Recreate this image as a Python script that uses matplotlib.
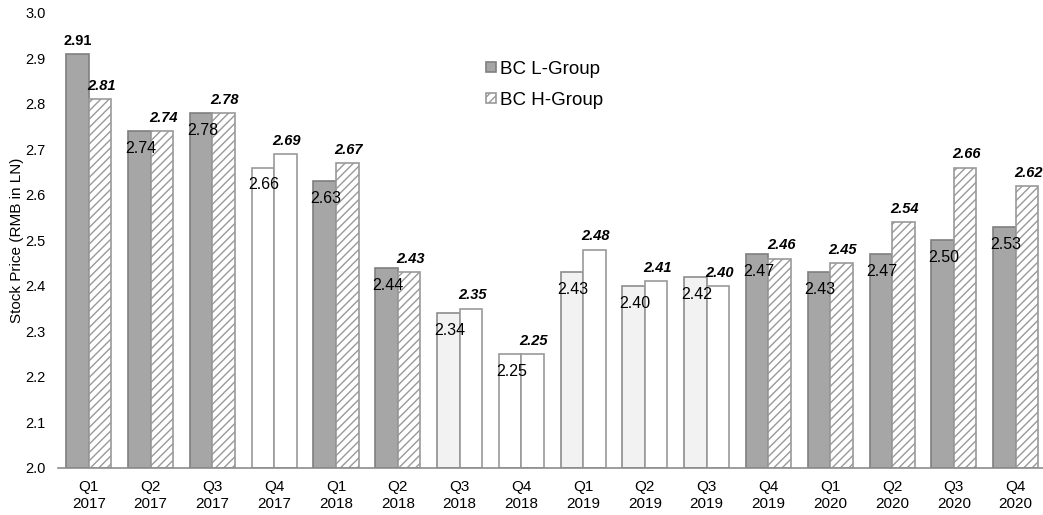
import matplotlib
matplotlib.use("Agg")
import matplotlib.pyplot as plt
import numpy as np
from matplotlib.patches import Patch

plt.rcParams['font.family'] = ['Liberation Sans', 'DejaVu Sans']
plt.rcParams['hatch.linewidth'] = 1.0

quarters = ['Q1', 'Q2', 'Q3', 'Q4'] * 4
years = ['2017'] * 4 + ['2018'] * 4 + ['2019'] * 4 + ['2020'] * 4
l_values = [2.91, 2.74, 2.78, 2.66, 2.63, 2.44, 2.34, 2.25,
            2.43, 2.40, 2.42, 2.47, 2.43, 2.47, 2.50, 2.53]
h_values = [2.81, 2.74, 2.78, 2.69, 2.67, 2.43, 2.35, 2.25,
            2.48, 2.41, 2.40, 2.46, 2.45, 2.54, 2.66, 2.62]

# fill style per bar: 'dark' grey, 'light' grey, 'white', 'hatch'
l_fill = ['dark', 'dark', 'dark', 'white', 'dark', 'dark', 'light', 'white',
          'light', 'light', 'light', 'dark', 'dark', 'dark', 'dark', 'dark']
h_fill = ['hatch', 'hatch', 'hatch', 'white', 'hatch', 'hatch', 'white', 'white',
          'white', 'white', 'white', 'hatch', 'hatch', 'hatch', 'hatch', 'hatch']

fills = {
    'dark': dict(facecolor='#a6a6a6', edgecolor='#7f7f7f'),
    'light': dict(facecolor='#f2f2f2', edgecolor='#8c8c8c'),
    'white': dict(facecolor='white', edgecolor='#9a9a9a'),
    'hatch': dict(facecolor='white', edgecolor='#999999', hatch='////'),
}

fig = plt.figure(figsize=(10.43, 5.15), dpi=100)
ax = fig.add_axes([0.0556, 0.0913, 0.946, 0.8835])

x = np.arange(len(l_values))
w = 0.365
base = 2.0

for i in range(len(x)):
    ax.bar(x[i] - w / 2, l_values[i] - base, w, bottom=base,
           linewidth=1.2, **fills[l_fill[i]])
    ax.bar(x[i] + w / 2, h_values[i] - base, w, bottom=base,
           linewidth=1.2, **fills[h_fill[i]])

# value labels
for i in range(len(x)):
    lv = l_values[i]
    if lv == max(l_values):
        ax.annotate(f'{lv:.2f}', (x[i] - w / 2, lv), xytext=(0, 4),
                    textcoords='offset points', ha='center', va='bottom',
                    fontsize=10.5, fontweight='bold')
    else:
        ax.annotate(f'{lv:.2f}', (x[i] - w / 2 + 0.02, lv), xytext=(0, -7),
                    textcoords='offset points', ha='center', va='top',
                    fontsize=11.5)
    hv = h_values[i]
    ax.annotate(f'{hv:.2f}', (x[i] + w / 2 + 0.02, hv), xytext=(0, 4.5),
                textcoords='offset points', ha='center', va='bottom',
                fontsize=10.5, fontweight='bold', fontstyle='italic')

ax.set_ylim(2.0, 3.0)
ax.set_xlim(-0.5, 15.47)
ax.set_yticks(np.arange(2.0, 3.01, 0.1))
ax.set_yticklabels([f'{v:.1f}' for v in np.arange(2.0, 3.01, 0.1)], fontsize=10.5)
ax.set_xticks(x)
ax.set_xticklabels([f'{q}\n{y}' for q, y in zip(quarters, years)], fontsize=11,
                   linespacing=1.2)
ax.tick_params(axis='both', length=0)
ax.tick_params(axis='y', pad=9)
ax.tick_params(axis='x', pad=9)

for s in ['top', 'right', 'left']:
    ax.spines[s].set_visible(False)
ax.spines['bottom'].set_color('#8c8c8c')
ax.spines['bottom'].set_linewidth(1.2)

ax.set_ylabel('Stock Price (RMB in LN)', fontsize=11)
ax.yaxis.set_label_coords(-0.034, 0.5)

handles = [Patch(**fills['dark'], linewidth=1.2, label='BC L-Group'),
           Patch(**fills['hatch'], linewidth=1.2, label='BC H-Group')]
fig.legend(handles=handles, loc='upper left', bbox_to_anchor=(0.45, 0.915),
           frameon=False, fontsize=13.5, handlelength=0.5, handleheight=0.5,
           handletextpad=0.25, labelspacing=0.75)

fig.savefig('out.png', dpi=100)
